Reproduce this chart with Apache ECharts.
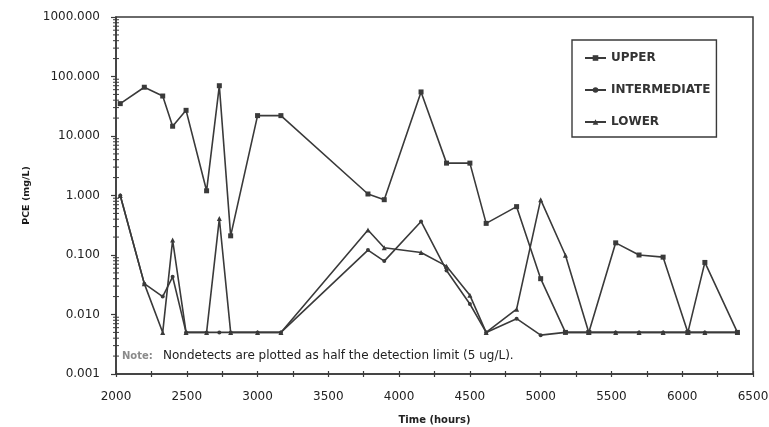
<!DOCTYPE html>
<html>
<head>
<meta charset="utf-8">
<script src="https://cdn.jsdelivr.net/npm/echarts@6/dist/echarts.min.js"></script>
<style>
  html, body { margin: 0; padding: 0; background: #ffffff; }
  #chart { width: 769px; height: 427px; }
</style>
</head>
<body>
<div id="chart"></div>
<script>
// Sampling times (hours) shared by all three monitoring depths
const hours = [2030, 2200, 2330, 2400, 2495, 2640, 2730, 2810, 3000, 3165,
               3780, 3895, 4155, 4335, 4500, 4615, 4830, 5000, 5175, 5340,
               5530, 5695, 5865, 6040, 6160, 6390];

// PCE concentrations (mg/L); nondetects sit at 0.005
const upper = [35, 66, 47, 14.6, 27, 1.2, 70, 0.21, 22, 22,
               1.06, 0.85, 55, 3.5, 3.5, 0.34, 0.65, 0.04, 0.005, 0.005,
               0.16, 0.1, 0.092, 0.005, 0.075, 0.005];
const intermediate = [1.0, 0.033, 0.02, 0.043, 0.005, 0.005, 0.005, 0.005, 0.005, 0.005,
                      0.121, 0.079, 0.366, 0.055, 0.015, 0.005, 0.0085, 0.0045, 0.005, 0.005,
                      0.005, 0.005, 0.005, 0.005, 0.005, 0.005];
const lower = [1.0, 0.033, 0.005, 0.178, 0.005, 0.005, 0.41, 0.005, 0.005, 0.005,
               0.264, 0.132, 0.11, 0.065, 0.021, 0.005, 0.0123, 0.85, 0.099, 0.005,
               0.005, 0.005, 0.005, 0.005, 0.005, 0.005];

const seriesNames = ['UPPER', 'INTERMEDIATE', 'LOWER'];
const noteLabel = 'Note:';
const noteText = 'Nondetects are plotted as half the detection limit (5 ug/L).';

// Log-decade minor tick values (2..9 x 10^k) for the concentration axis
const minorTickValues = [];
for (let e = -3; e < 3; e++) {
  for (let k = 2; k <= 9; k++) minorTickValues.push([2000, k * Math.pow(10, e)]);
}

const ink = '#3a3a3a';
const font = '"DejaVu Sans", "Liberation Sans", Arial, sans-serif';

function pairs(vals) { return hours.map((h, i) => [h, vals[i]]); }

const chart = echarts.init(document.getElementById('chart'), null, { renderer: 'canvas' });

const lineBase = {
  type: 'line',
  xAxisIndex: 0,
  yAxisIndex: 0,
  lineStyle: { color: ink, width: 1.6 },
  itemStyle: { color: ink },
  emphasis: { disabled: true },
  animation: false
};

chart.setOption({
  backgroundColor: '#ffffff',
  animation: false,
  textStyle: { fontFamily: font },
  grid: {
    left: 116, right: 16, top: 17, bottom: 53,
    outerBoundsMode: 'none',
    containLabel: false,
    show: true, borderColor: ink, borderWidth: 1.5, backgroundColor: 'transparent'
  },
  legend: {
    orient: 'vertical',
    left: 572, top: 40,
    padding: [12, 6, 9, 12],
    itemGap: 20,
    itemWidth: 21, itemHeight: 7,
    borderColor: ink, borderWidth: 1.4,
    backgroundColor: '#ffffff',
    textStyle: { fontFamily: font, fontSize: 12, fontWeight: 'bold', color: '#333' },
    data: seriesNames
  },
  xAxis: [{
    type: 'value',
    min: 2000, max: 6500, interval: 250,
    name: 'Time (hours)',
    nameLocation: 'middle', nameGap: 41,
    nameTextStyle: { fontFamily: font, fontSize: 10, fontWeight: 'bold', color: '#222' },
    axisLine: { lineStyle: { color: ink, width: 1.5 } },
    axisTick: { inside: true, length: 3, lineStyle: { color: ink, width: 1.2 } },
    axisLabel: {
      margin: 17, fontSize: 12, color: '#222', fontFamily: font,
      formatter: v => (v % 500 === 0 ? String(v) : '')
    },
    splitLine: { show: false }
  }, {
    type: 'value',
    position: 'bottom',
    min: 2000, max: 6500, interval: 250,
    axisLine: { show: false },
    axisTick: { inside: false, length: 3, lineStyle: { color: ink, width: 1.2 } },
    axisLabel: { show: false },
    splitLine: { show: false }
  }],
  yAxis: {
    type: 'log', logBase: 10,
    min: 0.001, max: 1000,
    name: 'PCE (mg/L)',
    nameLocation: 'middle', nameGap: 84, nameRotate: 90,
    nameTextStyle: { fontFamily: font, fontSize: 9.5, fontWeight: 'bold', color: '#1a1a1a' },
    axisLine: { show: true, lineStyle: { color: ink, width: 1.5 } },
    axisTick: { length: 5, lineStyle: { color: ink, width: 1.2 } },
    axisLabel: {
      margin: 16, fontSize: 12, color: '#222', fontFamily: font,
      formatter: v => Number(v).toFixed(3)
    },
    splitLine: { show: false }
  },
  graphic: [{
    type: 'text',
    left: 122, top: 351,
    style: { text: noteLabel, font: 'bold 10px ' + font, fill: '#8a8a8a' }
  }, {
    type: 'text',
    left: 163, top: 350,
    style: { text: noteText, font: '12px ' + font, fill: '#222' }
  }],
  series: [
    Object.assign({}, lineBase, {
      name: 'UPPER', data: pairs(upper),
      symbol: 'rect', symbolSize: 5, z: 4
    }),
    Object.assign({}, lineBase, {
      name: 'INTERMEDIATE', data: pairs(intermediate),
      symbol: 'circle', symbolSize: 4, z: 3
    }),
    Object.assign({}, lineBase, {
      name: 'LOWER', data: pairs(lower),
      symbol: 'triangle', symbolSize: 5, z: 3
    }),
    {
      // minor tick marks on the log axis, placed through the axis scale
      type: 'custom',
      name: 'minor-ticks',
      silent: true,
      animation: false,
      data: minorTickValues,
      renderItem: function (params, api) {
        const p = api.coord([api.value(0), api.value(1)]);
        return {
          type: 'line',
          shape: { x1: p[0] - 3, y1: p[1], x2: p[0] + 3, y2: p[1] },
          style: { stroke: ink, lineWidth: 1 }
        };
      },
      z: 5
    }
  ]
});
</script>
</body>
</html>
